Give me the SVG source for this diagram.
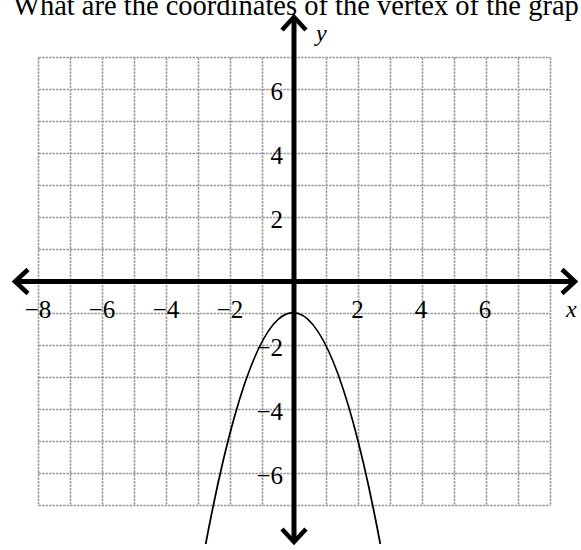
<svg xmlns="http://www.w3.org/2000/svg" width="581" height="550" viewBox="0 0 581 550">
<style>
.grid line{stroke:#9a9a9a;stroke-width:1.6;stroke-dasharray:2.5 1;}
.axis{stroke:#000;stroke-width:5;fill:none;}
.head{stroke:#000;stroke-width:4.5;fill:none;stroke-linecap:butt;stroke-linejoin:miter;}
.lbl{font-family:"Liberation Serif","Times New Roman",serif;font-size:25px;fill:#000;}
.it{font-style:italic;font-size:24px;}
</style>
<rect width="581" height="550" fill="#fff"/>
<text x="13" y="15" font-family="'Liberation Serif','Times New Roman',serif" font-size="28.5" fill="#000">What are the coordinates of the vertex of the grap</text>
<g id="grid" class="grid">
<line x1="38.5" y1="57.5" x2="38.5" y2="505.5"/>
<line x1="70.5" y1="57.5" x2="70.5" y2="505.5"/>
<line x1="102.5" y1="57.5" x2="102.5" y2="505.5"/>
<line x1="134.5" y1="57.5" x2="134.5" y2="505.5"/>
<line x1="166.5" y1="57.5" x2="166.5" y2="505.5"/>
<line x1="198.5" y1="57.5" x2="198.5" y2="505.5"/>
<line x1="230.5" y1="57.5" x2="230.5" y2="505.5"/>
<line x1="262.5" y1="57.5" x2="262.5" y2="505.5"/>
<line x1="326.5" y1="57.5" x2="326.5" y2="505.5"/>
<line x1="358.5" y1="57.5" x2="358.5" y2="505.5"/>
<line x1="390.5" y1="57.5" x2="390.5" y2="505.5"/>
<line x1="422.5" y1="57.5" x2="422.5" y2="505.5"/>
<line x1="454.5" y1="57.5" x2="454.5" y2="505.5"/>
<line x1="486.5" y1="57.5" x2="486.5" y2="505.5"/>
<line x1="518.5" y1="57.5" x2="518.5" y2="505.5"/>
<line x1="550.5" y1="57.5" x2="550.5" y2="505.5"/>
<line x1="38.5" y1="57.5" x2="550.5" y2="57.5"/>
<line x1="38.5" y1="89.5" x2="550.5" y2="89.5"/>
<line x1="38.5" y1="121.5" x2="550.5" y2="121.5"/>
<line x1="38.5" y1="153.5" x2="550.5" y2="153.5"/>
<line x1="38.5" y1="185.5" x2="550.5" y2="185.5"/>
<line x1="38.5" y1="217.5" x2="550.5" y2="217.5"/>
<line x1="38.5" y1="249.5" x2="550.5" y2="249.5"/>
<line x1="38.5" y1="313.5" x2="550.5" y2="313.5"/>
<line x1="38.5" y1="345.5" x2="550.5" y2="345.5"/>
<line x1="38.5" y1="377.5" x2="550.5" y2="377.5"/>
<line x1="38.5" y1="409.5" x2="550.5" y2="409.5"/>
<line x1="38.5" y1="441.5" x2="550.5" y2="441.5"/>
<line x1="38.5" y1="473.5" x2="550.5" y2="473.5"/>
<line x1="38.5" y1="505.5" x2="550.5" y2="505.5"/>
</g>
<g id="axes">
<line class="axis" x1="16" y1="281.5" x2="574" y2="281.5"/>
<line class="axis" x1="294" y1="18" x2="294" y2="541"/>
<polyline class="head" points="28,269.5 15,281.5 28,293.5"/>
<polyline class="head" points="562,269.5 575,281.5 562,293.5"/>
<polyline class="head" points="282,30 294,17 306,30"/>
<polyline class="head" points="282,529 294,542 306,529"/>
</g>
<g id="curve">
<path d="M205.7,544 Q293,81.4 380.3,544" fill="none" stroke="#000" stroke-width="1.8"/>
</g>
<g id="labels" class="lbl">
<text x="38" y="318" text-anchor="middle">−8</text>
<text x="102" y="318" text-anchor="middle">−6</text>
<text x="166" y="318" text-anchor="middle">−4</text>
<text x="230" y="318" text-anchor="middle">−2</text>
<text x="357.5" y="318" text-anchor="middle">2</text>
<text x="421" y="318" text-anchor="middle">4</text>
<text x="485" y="318" text-anchor="middle">6</text>
<text x="283" y="100" text-anchor="end">6</text>
<text x="283" y="164" text-anchor="end">4</text>
<text x="283" y="228" text-anchor="end">2</text>
<text x="283" y="356" text-anchor="end">−2</text>
<text x="283" y="420" text-anchor="end">−4</text>
<text x="283" y="484" text-anchor="end">−6</text>
<text class="it" x="316" y="41">y</text>
<text class="it" x="566" y="317">x</text>
</g>
</svg>
